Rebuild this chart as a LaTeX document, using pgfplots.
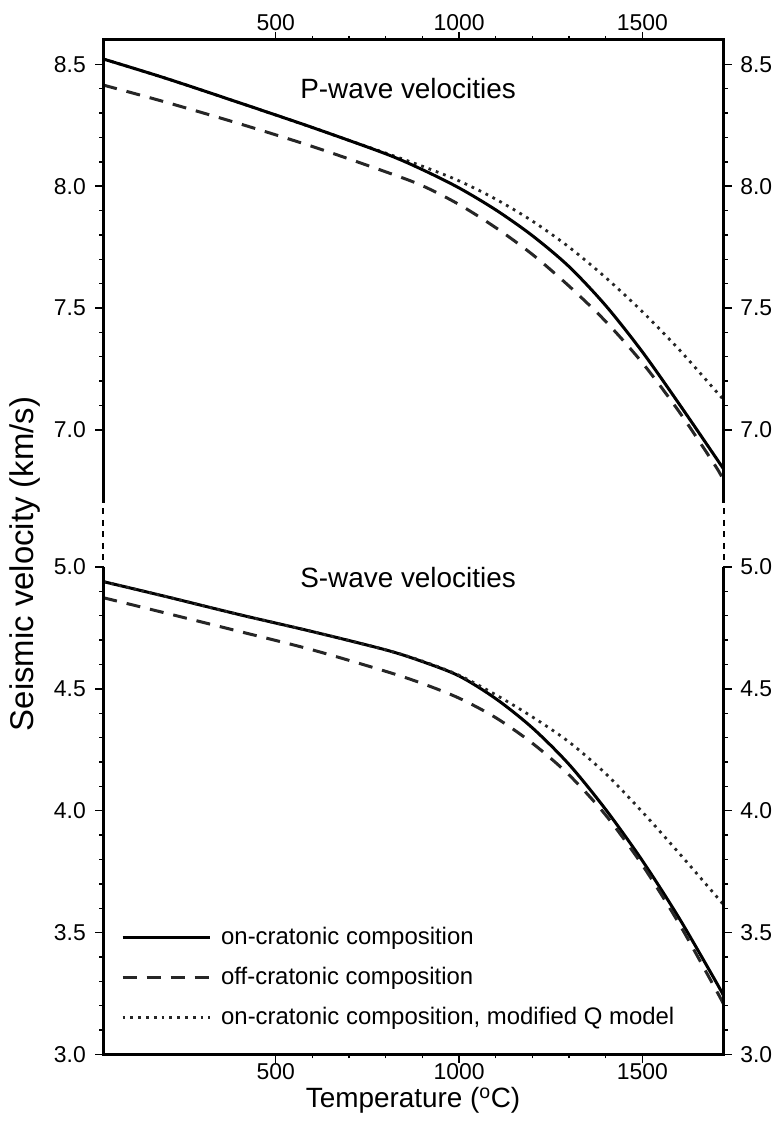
\documentclass[border=0pt]{standalone}
\usepackage{pgfplots}
\usepackage{pgfplotstable}
\pgfplotsset{compat=1.18}
\usepackage{fontspec}
\setmainfont{Liberation Sans}

% P-wave velocities (km/s) vs temperature (C)
\pgfplotstableread{
T v
30 8.522
200 8.443
400 8.343
600 8.241
800 8.133
900 8.068
1000 7.993
1100 7.903
1200 7.797
1300 7.670
1400 7.510
1500 7.320
1600 7.107
1700 6.887
1722 6.838
}\Pon
\pgfplotstableread{
T v
30 8.415
200 8.345
400 8.257
600 8.163
800 8.059
900 8.002
1000 7.925
1100 7.830
1200 7.720
1300 7.590
1400 7.445
1500 7.275
1600 7.075
1700 6.850
1722 6.790
}\Poff
\pgfplotstableread{
T v
30 8.522
200 8.443
400 8.343
600 8.241
700 8.188
800 8.136
900 8.082
1000 8.022
1100 7.947
1200 7.857
1300 7.750
1400 7.625
1500 7.485
1600 7.330
1700 7.160
1722 7.123
}\PonQ
% S-wave velocities
\pgfplotstableread{
T v
30 4.940
200 4.879
400 4.805
600 4.735
800 4.660
900 4.612
1000 4.553
1100 4.460
1200 4.340
1300 4.190
1400 4.005
1500 3.795
1600 3.560
1700 3.300
1722 3.240
}\Son
\pgfplotstableread{
T v
30 4.874
200 4.811
400 4.736
600 4.660
800 4.572
900 4.522
1000 4.462
1100 4.382
1200 4.277
1300 4.147
1400 3.982
1500 3.777
1600 3.537
1700 3.267
1722 3.205
}\Soff
\pgfplotstableread{
T v
30 4.940
200 4.879
400 4.805
600 4.735
800 4.660
900 4.614
1000 4.556
1100 4.476
1200 4.385
1300 4.282
1400 4.152
1500 3.995
1600 3.826
1700 3.652
1722 3.613
}\SonQ

\pgfplotsset{
  panel/.style={
    scale only axis, width=620.5bp,
    xmin=30, xmax=1722,
    xtick={500,1000,1500}, minor x tick num=4,
    minor y tick num=4,
    tick align=outside,
    major tick length=8bp, minor tick length=4bp,
    tick style={black, line width=1.4bp},
    axis line style={draw=none},
    anchor=south west,
    /pgf/number format/assume math mode=true,
    yticklabel style={/pgf/number format/fixed, /pgf/number format/fixed zerofill,
      /pgf/number format/precision=1},
    xticklabel style={/pgf/number format/1000 sep={}, /tikz/inner sep=1.5bp},
    tick label style={font=\fontsize{23}{27}\selectfont},
  },
  rlabels/.style={
    panel, xtick=\empty, minor x tick num=0, minor y tick num=0,
    yticklabel pos=right, ytick style={draw=none},
    yticklabel style={/tikz/xshift=5bp},
  },
  on/.style={black, line width=3bp, smooth},
  off/.style={black!85, line width=3bp, smooth, dash pattern=on 14bp off 10bp},
  onq/.style={black!85, line width=2.8bp, smooth, dash pattern=on 2.8bp off 5bp},
}

\begin{document}
\begin{tikzpicture}
\path[use as bounding box] (0,0) rectangle (776bp,1129bp);

% upper panel: P waves
\begin{axis}[panel, name=top, at={(103.3bp,626bp)}, height=463bp,
  ymin=6.7, ymax=8.6, ytick={7.0,7.5,8.0,8.5},
  xtick pos=right, xticklabel pos=right, ytick pos=both,
  yticklabel style={/tikz/xshift=-6bp}]
\addplot[onq] table[x=T, y=v] {\PonQ};
\addplot[off] table[x=T, y=v] {\Poff};
\addplot[on] table[x=T, y=v] {\Pon};
\node[font=\fontsize{28}{32}\selectfont] at (axis cs:861,8.40) {P-wave velocities};
\end{axis}
\begin{axis}[rlabels, at={(103.3bp,626bp)}, height=463bp,
  ymin=6.7, ymax=8.6, ytick={7.0,7.5,8.0,8.5}]
\end{axis}

% lower panel: S waves
\begin{axis}[panel, name=bot, at={(103.3bp,74.5bp)}, height=487.5bp,
  ymin=3.0, ymax=5.0, ytick={3.0,3.5,4.0,4.5,5.0},
  xtick pos=left, xticklabel pos=left, ytick pos=both,
  yticklabel style={/tikz/xshift=-6bp}, xticklabel style={/tikz/yshift=1bp},
  legend cell align=left,
  legend style={draw=none, fill=none, inner sep=0pt,
    at={(rel axis cs:0.0285,0.268)}, anchor=north west,
    font=\fontsize{24}{28}\selectfont, row sep=13bp, column sep=8bp,
    nodes={inner sep=2bp, text height=18bp, text depth=5bp}},
  legend image code/.code={\draw[#1] (0bp,0bp) -- (87bp,0bp);}]
\addplot[on] table[x=T, y=v] {\Son};
\addplot[off] table[x=T, y=v] {\Soff};
\addplot[onq] table[x=T, y=v] {\SonQ};
\legend{on-cratonic composition, off-cratonic composition, {on-cratonic composition, modified Q model}}
\node[font=\fontsize{28}{32}\selectfont] at (axis cs:861,4.955) {S-wave velocities};
\end{axis}
\begin{axis}[rlabels, at={(103.3bp,74.5bp)}, height=487.5bp,
  ymin=3.0, ymax=5.0, ytick={3.0,3.5,4.0,4.5,5.0}]
\end{axis}

% frame with broken sides
\draw[line width=3bp] (top.south west) -- (top.north west) -- (top.north east) -- (top.south east);
\draw[line width=3bp] (bot.north west) -- (bot.south west) -- (bot.south east) -- (bot.north east);
\draw[line width=2bp, dash pattern=on 6bp off 5.5bp, dash phase=-5.5bp] (top.south west) -- (bot.north west);
\draw[line width=2bp, dash pattern=on 6bp off 5.5bp, dash phase=-5.5bp] (top.south east) -- (bot.north east);

\node[font=\fontsize{28}{32}\selectfont, inner sep=0pt] at (413bp,28.5bp) {Temperature (\textsuperscript{o}C)};
\node[font=\fontsize{33}{37}\selectfont, rotate=90] at (25bp,565bp) {Seismic velocity (km/s)};
\end{tikzpicture}
\end{document}
